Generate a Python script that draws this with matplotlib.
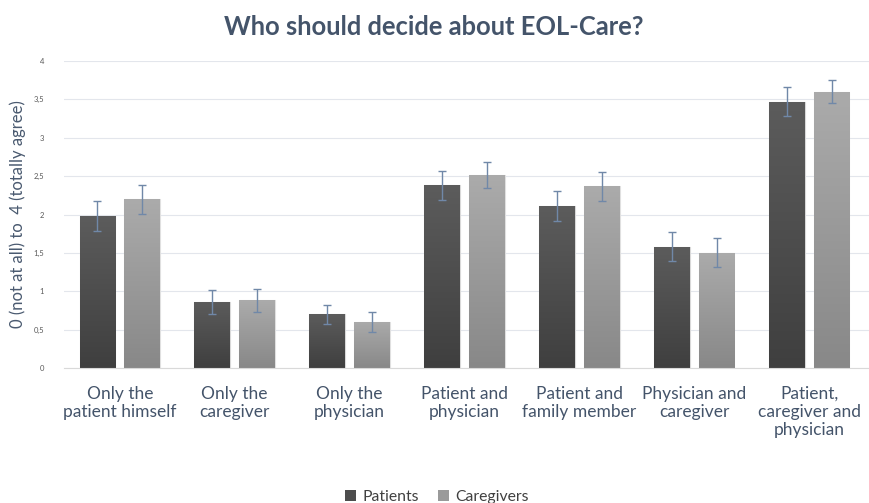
import numpy as np
import matplotlib
matplotlib.use("Agg")
import matplotlib.pyplot as plt
from matplotlib.colors import LinearSegmentedColormap
from matplotlib.patches import Patch

plt.rcParams['font.family'] = ['Lato', 'DejaVu Sans']

categories = ["Only the\npatient himself", "Only the\ncaregiver", "Only the\nphysician",
              "Patient and\nphysician", "Patient and\nfamily member", "Physician and\ncaregiver",
              "Patient,\ncaregiver and\nphysician"]
patients = [1.98, 0.86, 0.70, 2.38, 2.11, 1.58, 3.47]
patients_err = [0.19, 0.15, 0.125, 0.19, 0.19, 0.19, 0.19]
caregivers = [2.20, 0.88, 0.60, 2.51, 2.37, 1.50, 3.60]
caregivers_err = [0.19, 0.155, 0.125, 0.17, 0.19, 0.19, 0.15]
yticks = [0, 0.5, 1, 1.5, 2, 2.5, 3, 3.5, 4]
ytick_labels = ["0", "0,5", "1", "1,5", "2", "2,5", "3", "3,5", "4"]

fig = plt.figure(figsize=(8.7, 5.03), dpi=100)
ax = fig.add_axes([0.073, 0.2684, 0.927, 0.6103])

x = np.arange(len(categories))
w = 0.31
off = 0.195

dark = LinearSegmentedColormap.from_list("d", ["#3f3f3f", "#5c5c5c"])
light = LinearSegmentedColormap.from_list("l", ["#888888", "#ababab"])
grad = np.linspace(0, 1, 256).reshape(-1, 1)

def gradient_bars(bars, cmap):
    for b in bars:
        x0, y0 = b.get_x(), b.get_y()
        x1, y1 = x0 + b.get_width(), y0 + b.get_height()
        im = ax.imshow(grad, cmap=cmap, origin="lower", aspect="auto",
                       extent=(x0, x1, y0, y1), zorder=2)
        im.set_clip_path(b)

b1 = ax.bar(x - off, patients, w, color="#4d4d4d", edgecolor="#d9d9d9", linewidth=0.8, zorder=2)
b2 = ax.bar(x + off, caregivers, w, color="#9a9a9a", edgecolor="#e0e0e0", linewidth=0.8, zorder=2)
gradient_bars(b1, dark)
gradient_bars(b2, light)

ebkw = dict(fmt="none", ecolor="#7088a8", elinewidth=1.0, capsize=3, capthick=1.0, zorder=4)
ax.errorbar(x - off, patients, yerr=patients_err, **ebkw)
ax.errorbar(x + off, caregivers, yerr=caregivers_err, **ebkw)

ax.set_xlim(-0.49, 6.53)
ax.set_ylim(0, 4)
ax.set_yticks(yticks)
ax.set_yticklabels(ytick_labels, fontsize=5.5, color="#595959")
ax.set_xticks(x)
ax.set_xticklabels(categories, fontsize=12.5, color="#44546a", linespacing=1.15)
ax.tick_params(axis="both", length=0)
ax.tick_params(axis="x", pad=13)
ax.tick_params(axis="y", pad=14)
ax.grid(axis="y", color="#e3e6ec", linewidth=0.8, zorder=0)
ax.set_axisbelow(True)
for s in ax.spines.values():
    s.set_visible(False)
ax.spines["bottom"].set_visible(True)
ax.spines["bottom"].set_color("#d9d9d9")

ax.set_ylabel("0 (not at all) to  4 (totally agree)", fontsize=12, color="#4a5a70", labelpad=5)
fig.suptitle("Who should decide about EOL-Care?", x=0.498, y=0.97, fontsize=18.4,
             fontweight="bold", color="#44546a")

handles = [Patch(facecolor="#4d4d4d", label="Patients"), Patch(facecolor="#9a9a9a", label="Caregivers")]
fig.legend(handles=handles, loc="lower center", bbox_to_anchor=(0.502, -0.03), ncol=2,
           frameon=False, fontsize=11.3, handlelength=0.7, handleheight=0.7,
           handletextpad=0.4, columnspacing=1.2, labelcolor="#404040")

fig.savefig("out.png", dpi=100)
